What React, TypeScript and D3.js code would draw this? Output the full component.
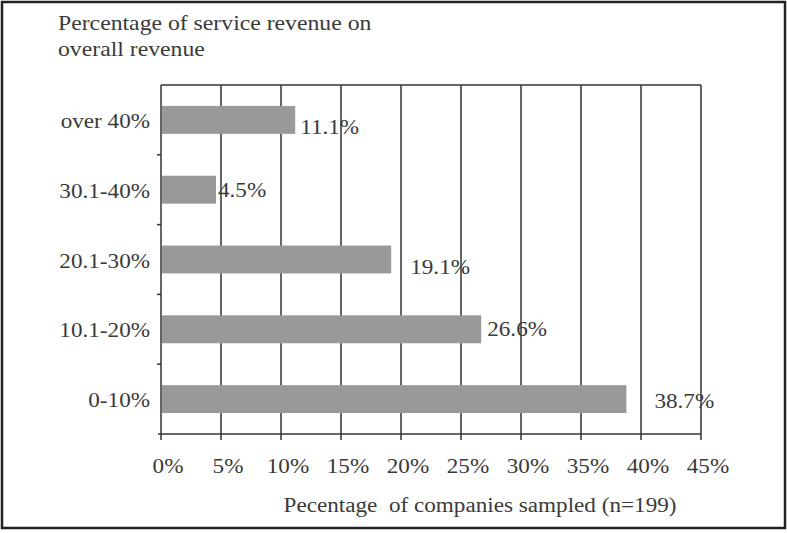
import React from "react";
import * as d3 from "d3";

const categories = ["over 40%", "30.1-40%", "20.1-30%", "10.1-20%", "0-10%"];
const values = [11.1, 4.5, 19.1, 26.6, 38.7];
const valueLabels = ["11.1%", "4.5%", "19.1%", "26.6%", "38.7%"];
const labelDx = [6, 3, 20, 7, 29];
const labelDy = [8, 1, 8, 1, 3];
const xTicks = [0, 5, 10, 15, 20, 25, 30, 35, 40, 45];
const titleLines = ["Percentage of service revenue on", "overall revenue"];
const xTitle = "Pecentage  of companies sampled (n=199)";

const W = 787;
const H = 533;
const FONT = "'Liberation Serif', 'Times New Roman', serif";
const TXT = "#3a3a3a";
const LINE = "#333";
const SX = 1.13;

function T(props: { x: number; y: number; anchor?: string; size?: number; children: string }) {
  const { x, y, anchor = "start", size = 20.5, children } = props;
  return (
    <text
      transform={`translate(${x},${y}) scale(${SX},1)`}
      textAnchor={anchor}
      fontFamily={FONT}
      fontSize={size}
      fill={TXT}
      style={{ whiteSpace: "pre" }}
    >
      {children}
    </text>
  );
}

export default function App() {
  const left = 161;
  const right = 701;
  const top = 85;
  const bottom = 434;
  const x = d3.scaleLinear().domain([0, 45]).range([left, right]);
  const y = d3.scaleBand<string>().domain(categories).range([top, bottom]).paddingInner(0.6).paddingOuter(0.3);
  const boundaries = d3.range(categories.length + 1).map((i) => top + i * ((bottom - top) / categories.length));

  return (
    <svg width={W} height={H} style={{ position: "absolute", left: 0, top: 0, background: "#fff" }}>
      <rect x={2} y={2} width={W - 4} height={H - 7} fill="#fff" stroke="#222" strokeWidth={2.5} />
      {titleLines.map((t, i) => (
        <T key={t} x={58} y={30 + i * 26} size={21}>
          {t}
        </T>
      ))}
      {xTicks.map((t) => (
        <line key={"g" + t} x1={x(t)} x2={x(t)} y1={top} y2={bottom + 6} stroke={LINE} strokeWidth={1.5} />
      ))}
      <line x1={left} x2={right} y1={top} y2={top} stroke={LINE} strokeWidth={1.5} />
      <line x1={left - 3} x2={right} y1={bottom} y2={bottom} stroke={LINE} strokeWidth={1.5} />
      {boundaries.slice(1, -1).map((b, i) => (
        <line key={"yt" + i} x1={left - 4} x2={left} y1={b} y2={b} stroke={LINE} strokeWidth={1.5} />
      ))}
      {categories.map((c, i) => (
        <rect key={c} x={x(0) + 1} y={y(c)!} width={x(values[i]) - x(0)} height={y.bandwidth()} fill="#999" />
      ))}
      {categories.map((c, i) => (
        <T key={"l" + c} x={x(values[i]) + labelDx[i]} y={y(c)! + y.bandwidth() / 2 + 6 + labelDy[i]}>
          {valueLabels[i]}
        </T>
      ))}
      {categories.map((c) => (
        <T key={"c" + c} x={150} y={y(c)! + y.bandwidth() / 2 + 8} anchor="end">
          {c}
        </T>
      ))}
      {xTicks.map((t) => (
        <T key={"xt" + t} x={x(t) + 7} y={473} anchor="middle">
          {t + "%"}
        </T>
      ))}
      <T x={480} y={512} anchor="middle">
        {xTitle}
      </T>
    </svg>
  );
}
